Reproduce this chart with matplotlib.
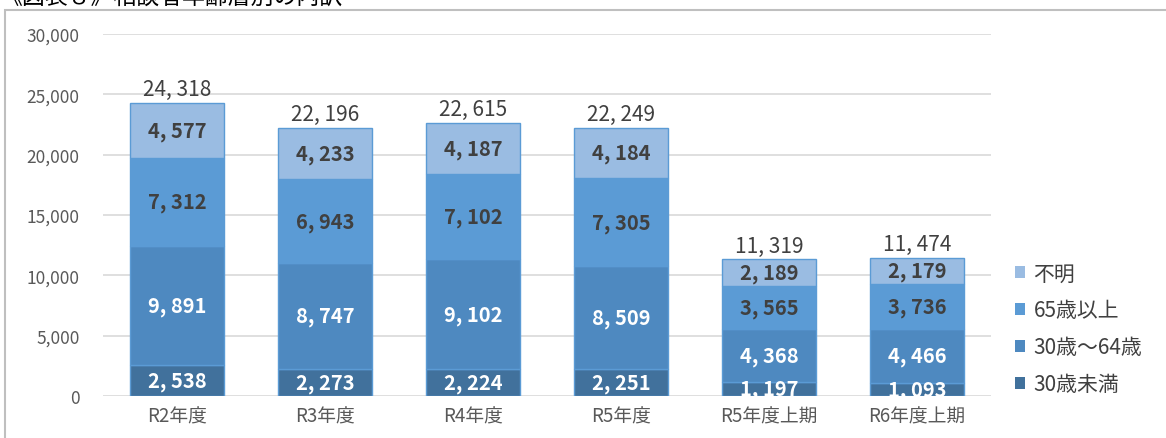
import numpy as np
import matplotlib.pyplot as plt
from matplotlib.patches import Rectangle, Patch

plt.rcParams['font.family'] = ['Noto Sans CJK JP', 'DejaVu Sans']

# データ
categories = ['R2年度', 'R3年度', 'R4年度', 'R5年度', 'R5年度上期', 'R6年度上期']
under30 = [2538, 2273, 2224, 2251, 1197, 1093]
age30_64 = [9891, 8747, 9102, 8509, 4368, 4466]
over65 = [7312, 6943, 7102, 7305, 3565, 3736]
unknown = [4577, 4233, 4187, 4184, 2189, 2179]
totals = [24318, 22196, 22615, 22249, 11319, 11474]

series = [
    ('30歳未満', under30, '#41719C', 'white'),
    ('30歳～64歳', age30_64, '#4E89C0', 'white'),
    ('65歳以上', over65, '#5B9BD5', '#404040'),
    ('不明', unknown, '#9ABCE2', '#404040'),
]


def fmt(v):
    return f'{v:,}'.replace(',', ', ')


W, H = 1166, 439
fig = plt.figure(figsize=(W / 100, H / 100), dpi=100)
ax = fig.add_axes([103 / W, 42 / H, 888 / W, 362 / H])

# 外枠とタイトル（上端で切れている）
fig.patches.append(Rectangle((5 / W, -0.1), 1.2, (H - 11) / H + 0.1, transform=fig.transFigure,
                             fill=False, edgecolor='#BFBFBF', lw=1.5, zorder=0))
fig.text(0 / W, 1 + 2 / H, '《図表８》相談者年齢層別の内訳', fontsize=16.5, color='#000000',
         ha='left', va='center')

x = np.arange(len(categories))
bottom = np.zeros(len(categories))
handles = []
for name, vals, color, tcolor in series:
    vals = np.array(vals)
    ax.bar(x, vals, 0.63, bottom=bottom, color=color, edgecolor='#5B9BD5', linewidth=1, zorder=2)
    for xi, b, v in zip(x, bottom, vals):
        ax.text(xi, b + v / 2, fmt(v), ha='center', va='center', fontsize=14.5, fontweight='bold',
                color=tcolor, clip_on=True, zorder=3)
    bottom += vals
    handles.append(Patch(facecolor=color, label=name))

for xi, t in zip(x, totals):
    ax.annotate(fmt(t), (xi, t), xytext=(0, 2), textcoords='offset points', ha='center', va='bottom',
                fontsize=15, color='#404040')

ax.set_xlim(-0.5, len(categories) - 0.5)
ax.set_ylim(0, 30000)
ax.set_yticks(range(0, 30001, 5000))
ax.set_yticklabels([f'{v:,}' for v in range(0, 30001, 5000)])
ax.set_xticks(x)
ax.set_xticklabels(categories)
ax.tick_params(axis='y', length=0, pad=17, labelsize=12.5, labelcolor='#595959')
ax.tick_params(axis='x', length=0, pad=7, labelsize=13.5, labelcolor='#595959')
ax.grid(axis='y', color='#D9D9D9', lw=1.2, zorder=0)
for s in ax.spines.values():
    s.set_visible(False)

fig.legend(handles=handles[::-1], loc='center left', bbox_to_anchor=(996 / W, (H - 330) / H),
           frameon=False, fontsize=15, labelcolor='#404040', handlelength=0.5, handleheight=0.5,
           handletextpad=0.4, labelspacing=0.72)

fig.savefig('out.png', dpi=100)
